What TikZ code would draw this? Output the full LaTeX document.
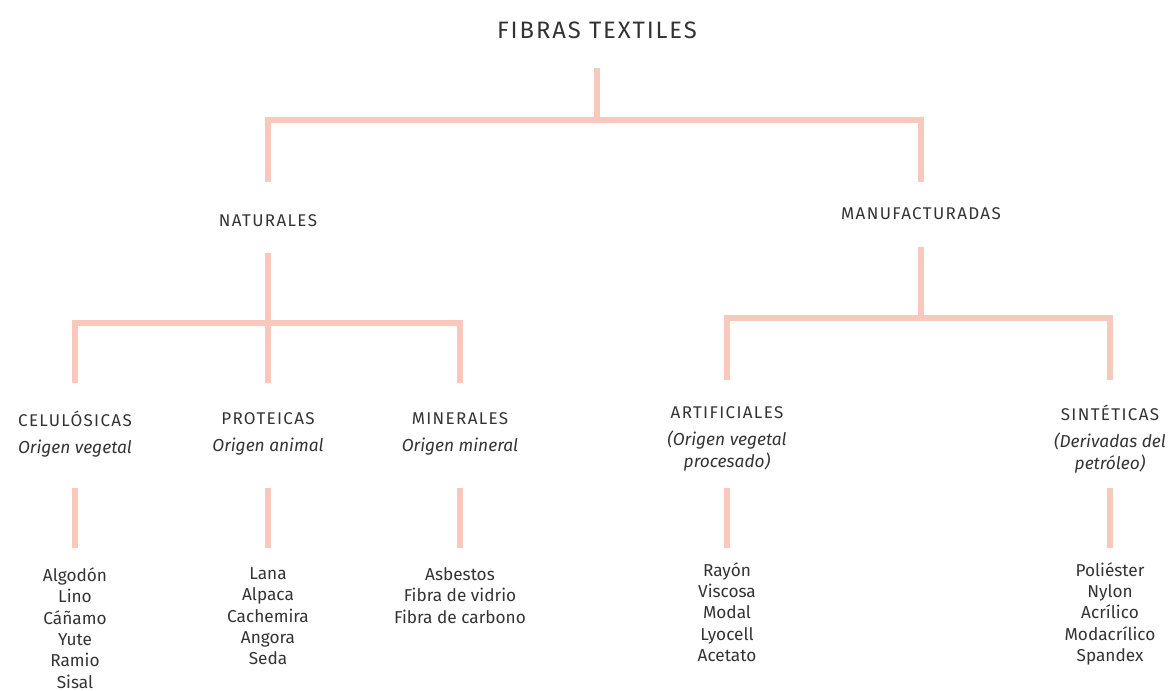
\documentclass[tikz,border=0pt]{standalone}
\usepackage{fontspec}
\setmainfont{Fira Sans}
\newfontfamily\capsfont[LetterSpace=8]{Fira Sans}
\usetikzlibrary{positioning,calc}
\definecolor{rosa}{HTML}{F8C8BD}
\definecolor{tinta}{HTML}{333333}

\tikzset{
  link/.style={draw=rosa, line width=4.3pt},
  titulo/.style={font=\capsfont\fontsize{20.3}{23}\selectfont, text=tinta, inner sep=0pt},
  grupo/.style={font=\capsfont\fontsize{14.5}{17}\selectfont, text=tinta, inner sep=0pt},
  clase/.style={align=center, text=tinta, inner sep=0pt, font=\fontsize{14.8}{18.8}\selectfont},
  lista/.style={align=center, anchor=north, text=tinta, inner sep=0pt, font=\fontsize{14.7}{18.2}\selectfont},
}
\newcommand{\cab}[1]{{\capsfont\fontsize{14.5}{17}\selectfont #1}}

\begin{document}
\begin{tikzpicture}[x=0.03cm, y=-0.03cm]
    \useasboundingbox (0,0) rectangle (1170,690);

    % Titulo y ramas
    \node[titulo] (titulo) at (597,30) {FIBRAS TEXTILES};
    \coordinate (j0) at (597,120);
    \node[grupo] (nat) at (268,221) {NATURALES};
    \node[grupo] (man) at (921,214) {MANUFACTURADAS};

    \draw[link] ($(titulo)+(0,38)$) -- (j0);
    \draw[link] ($(nat)+(0,-39)$) |- (j0) -| ($(man)+(0,-32)$);

    % Naturales
    \coordinate (jn) at (268,323);
    \node[clase] (cel) at (75,434) {\cab{CELULÓSICAS}\\[4.2pt]\textit{Origen vegetal}};
    \node[clase] (pro) at (268,434) {\cab{PROTEICAS}\\[4.2pt]\textit{Origen animal}};
    \node[clase] (min) at (460,434) {\cab{MINERALES}\\[4.2pt]\textit{Origen mineral}};

    \draw[link] ($(nat)+(0,32)$) -- ($(pro)+(0,-51)$);
    \draw[link] ($(cel)+(0,-51)$) |- (jn) -| ($(min)+(0,-51)$);

    % Manufacturadas
    \coordinate (jm) at (921,318);
    \node[clase] (art) at (727,439) {\cab{ARTIFICIALES}\\[4.2pt]\textit{(Origen vegetal}\\\textit{procesado)}};
    \node[clase] (sin) at (1110,439) {\cab{SINTÉTICAS}\\[4.2pt]\textit{(Derivadas del}\\\textit{petróleo)}};

    \draw[link] ($(man)+(0,33)$) -- (jm);
    \draw[link] ($(art)+(0,-59)$) |- (jm) -| ($(sin)+(0,-59)$);

    % Listas
    \node[lista] (celL) at (75,567.5) {Algodón\\Lino\\Cáñamo\\Yute\\Ramio\\Sisal};
    \node[lista] (proL) at (268,567.5) {Lana\\Alpaca\\Cachemira\\Angora\\Seda};
    \node[lista] (minL) at (460,567.5) {Asbestos\\Fibra de vidrio\\Fibra de carbono};
    \node[lista] (artL) at (727,562) {Rayón\\Viscosa\\Modal\\Lyocell\\Acetato};
    \node[lista] (sinL) at (1110,562) {Poliéster\\Nylon\\Acrílico\\Modacrílico\\Spandex};

    \foreach \g in {cel,pro,min}{
        \draw[link] ($(\g)+(0,54)$) -- ($(\g L.north)+(0,-19.5)$);
    }
    \foreach \g in {art,sin}{
        \draw[link] ($(\g)+(0,49)$) -- ($(\g L.north)+(0,-14)$);
    }
\end{tikzpicture}
\end{document}
